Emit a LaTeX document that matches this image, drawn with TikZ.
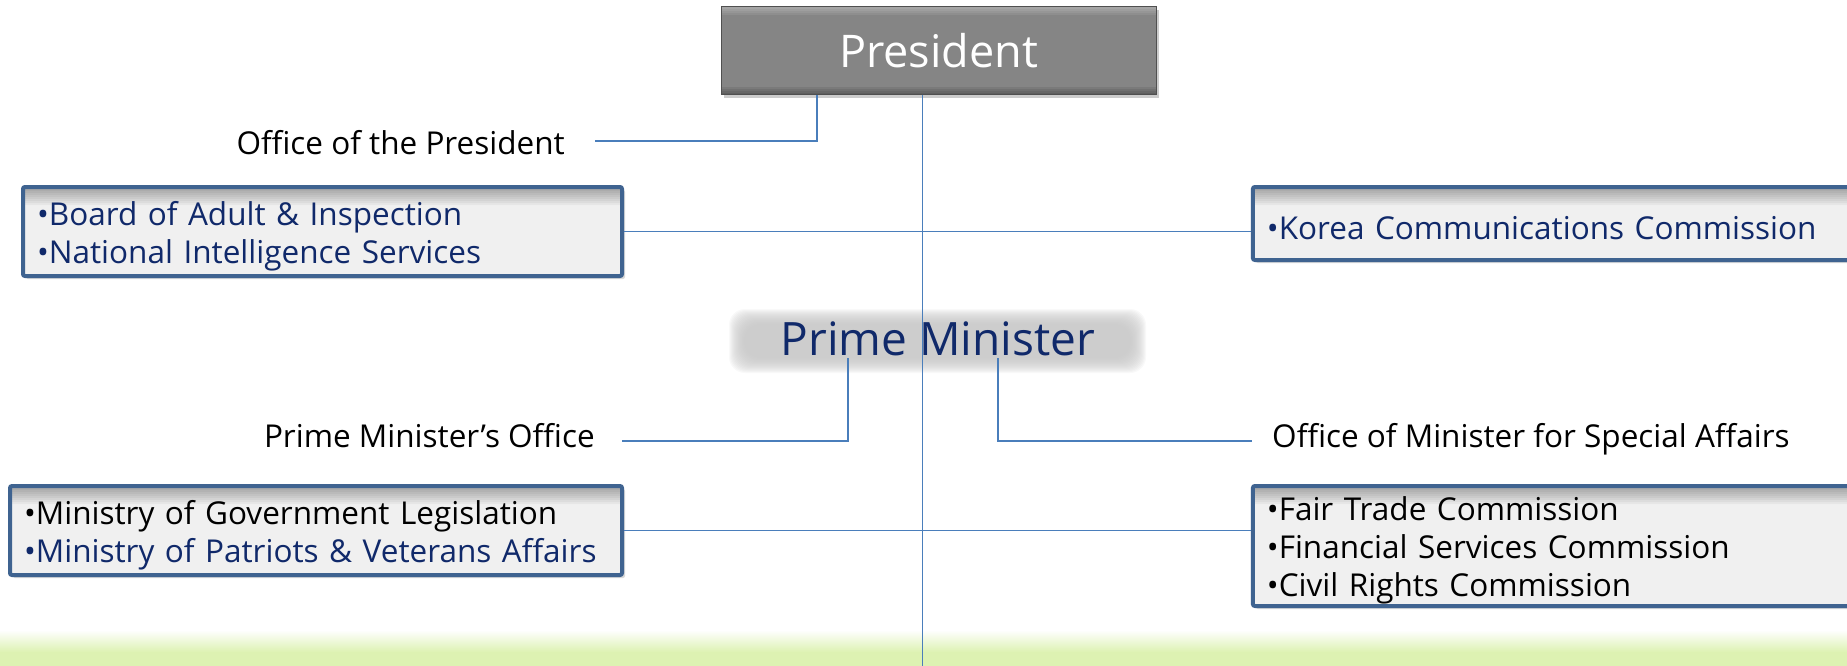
\documentclass[tikz,border=0pt]{standalone}
\usepackage{fontspec}
\setmainfont{Open Sans}
\usepackage{tikz}
\usetikzlibrary{calc}
\usetikzlibrary{shadows}
\definecolor{orgnavy}{HTML}{10296A}
\definecolor{boxedge}{HTML}{3F6390}
\definecolor{boxfill}{HTML}{F0F0F0}
\definecolor{linkblue}{HTML}{4A7EBB}
\definecolor{presgray}{HTML}{858585}
\definecolor{glowgray}{HTML}{C4C4C4}
\definecolor{bandgreen}{HTML}{DDF2B2}
\tikzstyle{link}=[draw=linkblue, line width=1.5pt]
\tikzstyle{unitname}=[font=\fontsize{31.5}{38}\selectfont, inner sep=0pt, text height=23.5pt, text depth=0pt]
\tikzstyle{orgbox}=[draw=boxedge, line width=4pt, fill=boxfill, rounded corners=2pt, align=left, inner xsep=14pt, inner ysep=0pt, font=\fontsize{31.5}{38}\selectfont, execute at begin node={\rule{0pt}{33pt}}, drop shadow={opacity=0.3, shadow xshift=3pt, shadow yshift=-3pt}, path picture={\foreach \s in {1,...,9} \fill[black, opacity=0.04] (path picture bounding box.north west) rectangle ([yshift=-\s*2pt]path picture bounding box.north east);}]
\tikzstyle{presbox}=[draw=presgray!60!black, line width=1pt, fill=presgray, text=white, minimum width=435pt, minimum height=88pt, font=\fontsize{45}{54}\selectfont, drop shadow={opacity=0.4, shadow xshift=3pt, shadow yshift=-3pt}, path picture={\foreach \s in {1,...,4} {\fill[white, opacity=0.08] (path picture bounding box.north west) rectangle ([yshift=-\s*2pt]path picture bounding box.north east); \fill[black, opacity=0.08] (path picture bounding box.south west) rectangle ([yshift=\s*2pt]path picture bounding box.south east);}}]
\tikzstyle{pmtext}=[text=orgnavy, font=\fontsize{46}{54}\selectfont, inner sep=0pt]

\begin{document}
\begin{tikzpicture}[x=1pt,y=-1pt]
    \useasboundingbox (0,0) rectangle (1847,666);
    % green band at the foot
    \shade[top color=white, bottom color=bandgreen] (0,630) rectangle (1847,652);
    \fill[bandgreen] (0,652) rectangle (1847,666);
    % soft glow behind the prime minister
    \foreach \g in {0,...,15}
        \fill[glowgray, opacity=0.11, rounded corners=16pt] (744-\g,324-\g) rectangle (1131+\g,358+\g);

    \node [presbox] (pres) at (938.5,51) {President};
    \node [pmtext] (pm) at (938,339) {Prime Minister};
    \coordinate (bottom) at (922.5,666);

    \node [unitname, anchor=east] (opres) at (565,143) {Office of the President};
    \node [unitname, anchor=east] (pmo) at (595,436) {Prime Minister's Office};
    \node [unitname, anchor=west] (osa) at (1272,436) {Office of Minister for Special Affairs};

    \node [orgbox, text=orgnavy, text width=571pt, minimum height=89pt] (adult) at (322.5,231.5)
        {•Board of Adult \& Inspection\\•National Intelligence Services};
    \node [orgbox, text=orgnavy, text width=619pt, minimum height=73pt] (kcc) at (1576.4,223.5)
        {•Korea Communications Commission};
    \node [orgbox, text width=584pt, minimum height=89pt] (ministry) at (316,530.5)
        {•Ministry of Government Legislation\\\textcolor{orgnavy}{•Ministry of Patriots \& Veterans Affairs}};
    \node [orgbox, text width=619pt, minimum height=120pt] (ftc) at (1576.4,546)
        {•Fair Trade Commission\\•Financial Services Commission\\•Civil Rights Commission};

    % connectors
    \draw [link] (pres.south -| bottom) -- (bottom);
    \draw [link] ([xshift=-121.5pt]pres.south) |- ([xshift=30pt,yshift=2pt]opres.east);
    \draw [link] ([xshift=-90pt,yshift=-2pt]pm.south) |- ([xshift=27pt,yshift=-5pt]pmo.east);
    \draw [link] ([xshift=60pt,yshift=-2pt]pm.south) |- ([xshift=-20pt,yshift=-5pt]osa.west);
    \draw [link] (adult.east) -- (adult.east -| kcc.west);
    \draw [link] (ministry.east) -- (ministry.east -| ftc.west);
\end{tikzpicture}
\end{document}
